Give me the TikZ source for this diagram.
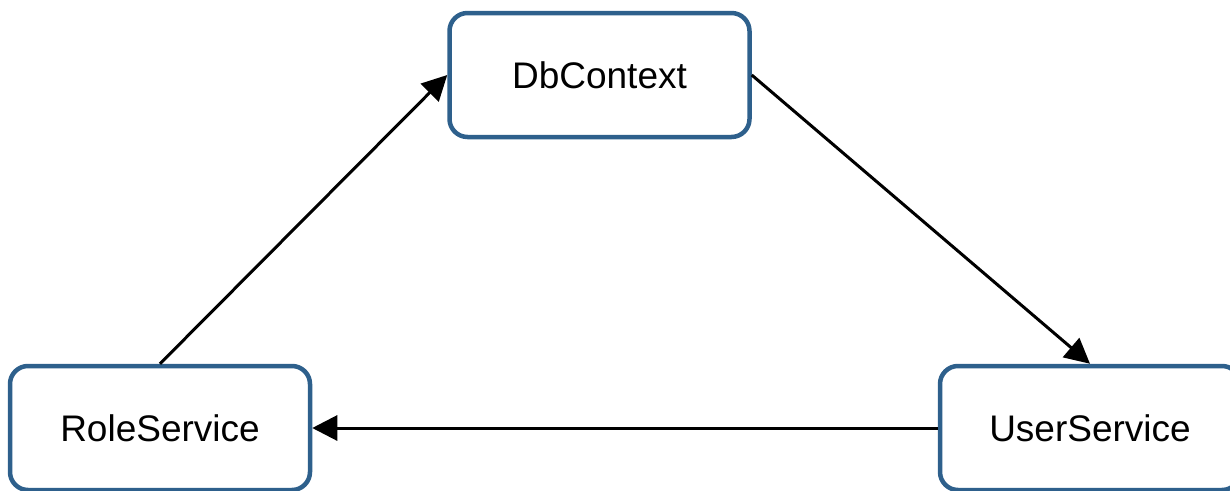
\documentclass[tikz,border=0pt]{standalone}
\usepackage{fontspec}
\setmainfont{Liberation Sans}
\usetikzlibrary{arrows.meta}
\definecolor{boxblue}{RGB}{46,96,140}
\tikzset{
  svcbox/.style={draw=boxblue, line width=4.5pt, rounded corners=18pt, fill=white,
    minimum width=300pt, minimum height=124pt, inner sep=0pt,
    font=\fontsize{37}{44}\selectfont},
  dep/.style={draw=black, line width=3pt, -{Triangle[length=25pt,width=25pt]}}
}
\begin{document}
\begin{tikzpicture}[x=1pt,y=-1pt]
  \useasboundingbox (0,0) rectangle (1230,490);
  \node[svcbox] (db)   at (599.5,75)  {DbContext};
  \node[svcbox] (role) at (160,428)   {RoleService};
  \node[svcbox] (user) at (1090,428)  {UserService};
  \draw[dep] (role.north) -- (db.west);
  \draw[dep] (db.east) -- (user.north);
  \draw[dep] (user.west) -- (role.east);
\end{tikzpicture}
\end{document}
